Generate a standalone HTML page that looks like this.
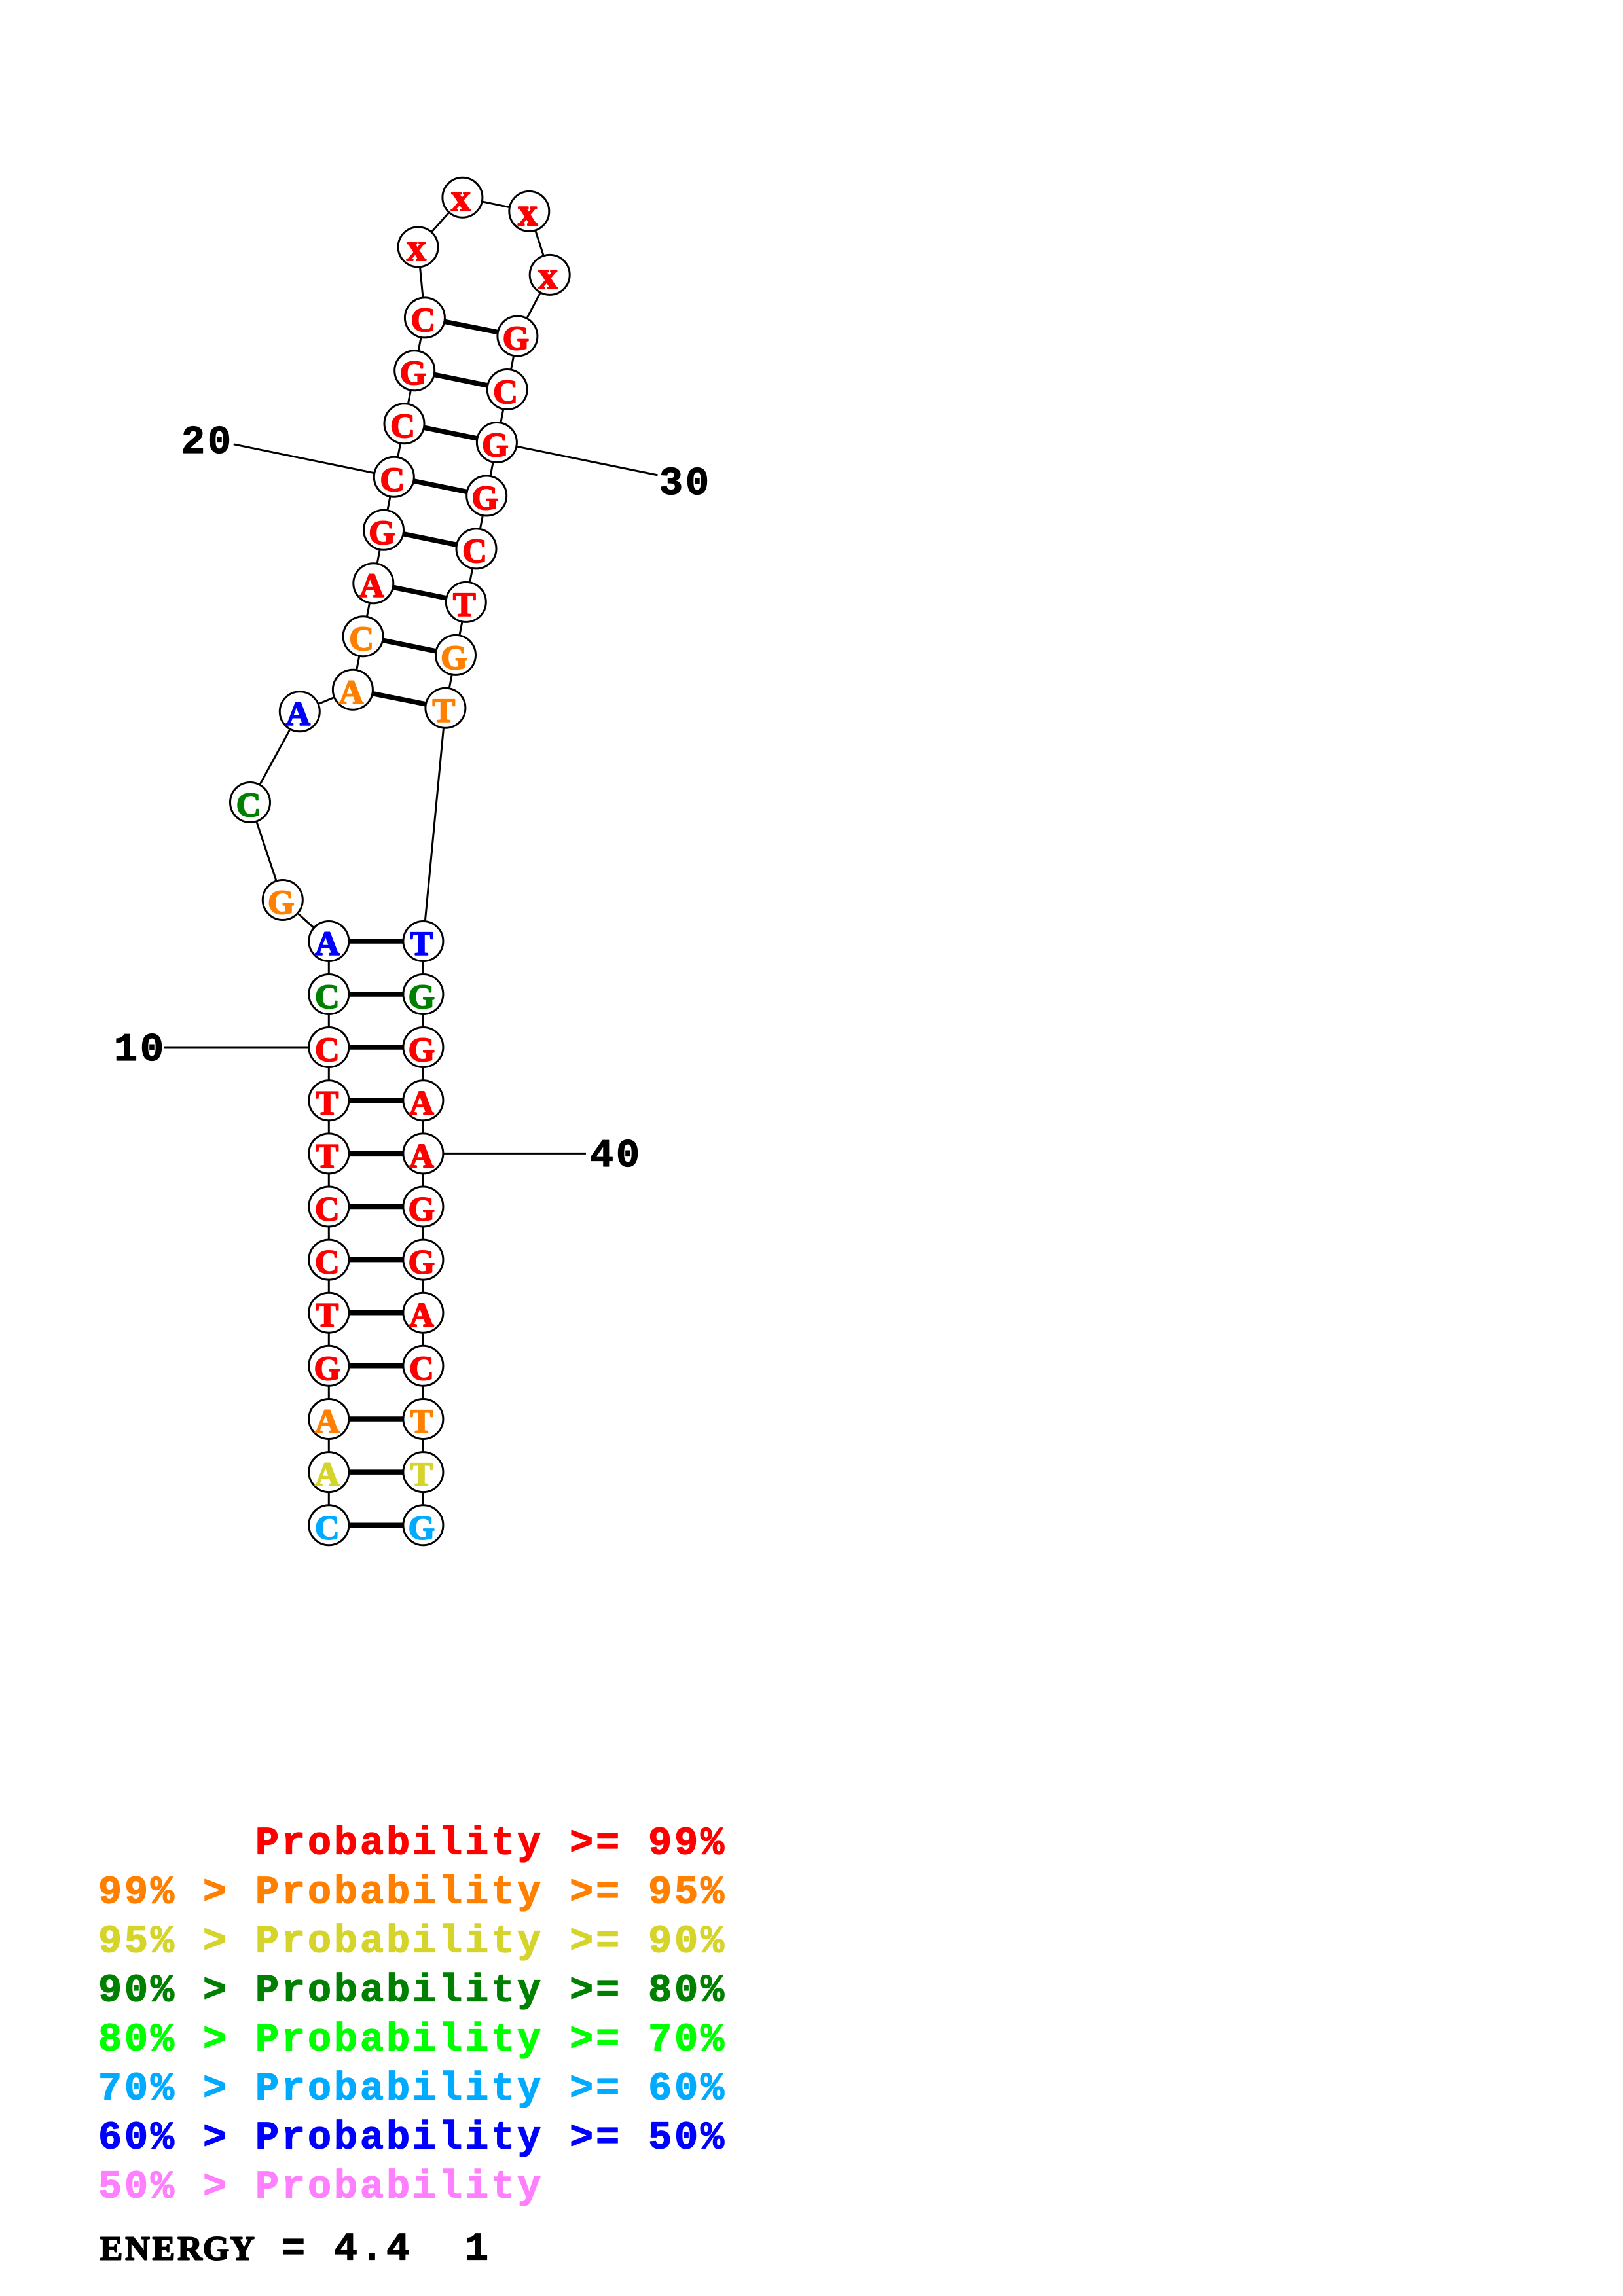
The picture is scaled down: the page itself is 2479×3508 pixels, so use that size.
<!DOCTYPE html>
<html><head><meta charset="utf-8"><style>
html,body{margin:0;padding:0;background:#fff}
svg{display:block}
.b{stroke:#000;stroke-width:3;fill:none}
.p{stroke:#000;stroke-width:7.5;fill:none}
circle{fill:#fff;stroke:#000;stroke-width:3}
.n text{font:bold 52px "Liberation Serif",serif;text-anchor:middle;stroke-width:2px;stroke-linejoin:round}
.n text.x{font-size:60px}
.m text{font:bold 60px "Liberation Mono",monospace;letter-spacing:4px;white-space:pre;stroke-width:1.3px;stroke-linejoin:round}
.m text.s{font:bold 52px "Liberation Serif",serif;letter-spacing:0;text-anchor:middle;stroke-width:2px}
</style></head><body>
<svg width="2479" height="3508" viewBox="0 0 2479 3508" xmlns="http://www.w3.org/2000/svg">
<polyline class="b" points="502.3,2330.3 502.3,1438 431.8,1375 382,1226 457.8,1087.3 538.9,1053.7 554.6,972.2 570.3,891.2 586,809.7 601.8,728.8 617.5,647.2 633.2,566.3 648.9,485.4 638.6,377.4 706.4,301.7 808.3,322.9 839.7,419.9 790.4,513.5 774.7,595 758.9,676 743.2,757.5 727.5,838.4 711.8,919.9 696,1000.9 680.4,1081.8 646.4,1438 646.4,2330.3"/>
<line class="b" x1="356.8" y1="678.8" x2="601.8" y2="728.8"/>
<line class="b" x1="758.9" y1="676" x2="1004.5" y2="725.9"/>
<line class="b" x1="251" y1="1600" x2="502.3" y2="1600"/>
<line class="b" x1="646.4" y1="1762.4" x2="895" y2="1762.4"/>
<g class="p">
<line x1="648.9" y1="485.4" x2="790.4" y2="513.5"/>
<line x1="633.2" y1="566.3" x2="774.7" y2="595"/>
<line x1="617.5" y1="647.2" x2="758.9" y2="676"/>
<line x1="601.8" y1="728.8" x2="743.2" y2="757.5"/>
<line x1="586" y1="809.7" x2="727.5" y2="838.4"/>
<line x1="570.3" y1="891.2" x2="711.8" y2="919.9"/>
<line x1="554.6" y1="972.2" x2="696" y2="1000.9"/>
<line x1="538.9" y1="1053.7" x2="680.4" y2="1081.8"/>
<line x1="502.3" y1="1438" x2="646.4" y2="1438"/>
<line x1="502.3" y1="1519" x2="646.4" y2="1519"/>
<line x1="502.3" y1="1600" x2="646.4" y2="1600"/>
<line x1="502.3" y1="1681.3" x2="646.4" y2="1681.3"/>
<line x1="502.3" y1="1762.4" x2="646.4" y2="1762.4"/>
<line x1="502.3" y1="1843.5" x2="646.4" y2="1843.5"/>
<line x1="502.3" y1="1924.6" x2="646.4" y2="1924.6"/>
<line x1="502.3" y1="2005.7" x2="646.4" y2="2005.7"/>
<line x1="502.3" y1="2086.8" x2="646.4" y2="2086.8"/>
<line x1="502.3" y1="2168" x2="646.4" y2="2168"/>
<line x1="502.3" y1="2249.1" x2="646.4" y2="2249.1"/>
<line x1="502.3" y1="2330.3" x2="646.4" y2="2330.3"/>
</g>
<g>
<circle cx="638.6" cy="377.4" r="30.5"/><circle cx="706.4" cy="301.7" r="30.5"/><circle cx="808.3" cy="322.9" r="30.5"/><circle cx="839.7" cy="419.9" r="30.5"/>
<circle cx="648.9" cy="485.4" r="30.5"/><circle cx="790.4" cy="513.5" r="30.5"/>
<circle cx="633.2" cy="566.3" r="30.5"/><circle cx="774.7" cy="595" r="30.5"/>
<circle cx="617.5" cy="647.2" r="30.5"/><circle cx="758.9" cy="676" r="30.5"/>
<circle cx="601.8" cy="728.8" r="30.5"/><circle cx="743.2" cy="757.5" r="30.5"/>
<circle cx="586" cy="809.7" r="30.5"/><circle cx="727.5" cy="838.4" r="30.5"/>
<circle cx="570.3" cy="891.2" r="30.5"/><circle cx="711.8" cy="919.9" r="30.5"/>
<circle cx="554.6" cy="972.2" r="30.5"/><circle cx="696" cy="1000.9" r="30.5"/>
<circle cx="538.9" cy="1053.7" r="30.5"/><circle cx="680.4" cy="1081.8" r="30.5"/>
<circle cx="457.8" cy="1087.3" r="30.5"/><circle cx="382" cy="1226" r="30.5"/><circle cx="431.8" cy="1375" r="30.5"/>
<circle cx="502.3" cy="1438" r="30.5"/><circle cx="646.4" cy="1438" r="30.5"/>
<circle cx="502.3" cy="1519" r="30.5"/><circle cx="646.4" cy="1519" r="30.5"/>
<circle cx="502.3" cy="1600" r="30.5"/><circle cx="646.4" cy="1600" r="30.5"/>
<circle cx="502.3" cy="1681.3" r="30.5"/><circle cx="646.4" cy="1681.3" r="30.5"/>
<circle cx="502.3" cy="1762.4" r="30.5"/><circle cx="646.4" cy="1762.4" r="30.5"/>
<circle cx="502.3" cy="1843.5" r="30.5"/><circle cx="646.4" cy="1843.5" r="30.5"/>
<circle cx="502.3" cy="1924.6" r="30.5"/><circle cx="646.4" cy="1924.6" r="30.5"/>
<circle cx="502.3" cy="2005.7" r="30.5"/><circle cx="646.4" cy="2005.7" r="30.5"/>
<circle cx="502.3" cy="2086.8" r="30.5"/><circle cx="646.4" cy="2086.8" r="30.5"/>
<circle cx="502.3" cy="2168" r="30.5"/><circle cx="646.4" cy="2168" r="30.5"/>
<circle cx="502.3" cy="2249.1" r="30.5"/><circle cx="646.4" cy="2249.1" r="30.5"/>
<circle cx="502.3" cy="2330.3" r="30.5"/><circle cx="646.4" cy="2330.3" r="30.5"/>
</g>
<g class="n">
<g fill="#ff0000" stroke="#ff0000">
<text class="x" x="636" y="398">x</text><text class="x" x="704" y="322">x</text><text class="x" x="806" y="344">x</text><text class="x" x="837" y="441">x</text>
<text x="646.4" y="506">C</text><text x="788" y="534">G</text>
<text x="631" y="587">G</text><text x="772" y="616">C</text>
<text x="615" y="668">C</text><text x="756.4" y="697">G</text>
<text x="599.3" y="750">C</text><text x="740.7" y="778">G</text>
<text x="583.5" y="831">G</text><text x="725" y="859">C</text>
<text x="567.8" y="912">A</text><text x="709.3" y="941">T</text>
<text x="499.8" y="1621">C</text><text x="643.9" y="1621">G</text>
<text x="499.8" y="1702.3">T</text><text x="643.9" y="1702.3">A</text>
<text x="499.8" y="1783.4">T</text><text x="643.9" y="1783.4">A</text>
<text x="499.8" y="1864.5">C</text><text x="643.9" y="1864.5">G</text>
<text x="499.8" y="1945.6">C</text><text x="643.9" y="1945.6">G</text>
<text x="499.8" y="2026.7">T</text><text x="643.9" y="2026.7">A</text>
<text x="499.8" y="2107.8">G</text><text x="643.9" y="2107.8">C</text>
</g>
<g fill="#ff8000" stroke="#ff8000">
<text x="552.1" y="993">C</text><text x="693.5" y="1022">G</text>
<text x="536.4" y="1075">A</text><text x="677.9" y="1103">T</text>
<text x="429.3" y="1396">G</text>
<text x="499.8" y="2189">A</text><text x="643.9" y="2189">T</text>
</g>
<g fill="#d4d42a" stroke="#d4d42a"><text x="499.8" y="2270.1">A</text><text x="643.9" y="2270.1">T</text></g>
<g fill="#008000" stroke="#008000"><text x="379.5" y="1247">C</text><text x="499.8" y="1540">C</text><text x="643.9" y="1540">G</text></g>
<g fill="#00aaff" stroke="#00aaff"><text x="499.8" y="2351.3">C</text><text x="643.9" y="2351.3">G</text></g>
<g fill="#0000ff" stroke="#0000ff"><text x="455.3" y="1108">A</text><text x="499.8" y="1459">A</text><text x="643.9" y="1459">T</text></g>
</g>
<g class="m">
<text x="277" y="692" stroke="#000">20</text>
<text x="1007" y="755" stroke="#000">30</text>
<text x="174" y="1620" stroke="#000">10</text>
<text x="901" y="1782" stroke="#000">40</text>
<text x="150" y="2832.5" fill="#ff0000" stroke="#ff0000">      Probability &gt;= 99%</text>
<text x="150" y="2907.5" fill="#ff8000" stroke="#ff8000">99% &gt; Probability &gt;= 95%</text>
<text x="150" y="2982.5" fill="#d4d42a" stroke="#d4d42a">95% &gt; Probability &gt;= 90%</text>
<text x="150" y="3057.5" fill="#008000" stroke="#008000">90% &gt; Probability &gt;= 80%</text>
<text x="150" y="3132.5" fill="#00ff00" stroke="#00ff00">80% &gt; Probability &gt;= 70%</text>
<text x="150" y="3207.5" fill="#00aaff" stroke="#00aaff">70% &gt; Probability &gt;= 60%</text>
<text x="150" y="3282.5" fill="#0000ff" stroke="#0000ff">60% &gt; Probability &gt;= 50%</text>
<text x="150" y="3357.5" fill="#ff80ff" stroke="#ff80ff">50% &gt; Probability</text>
<text class="s" x="170 210 250 290 330 370" y="3452.7" fill="#000" stroke="#000">ENERGY</text>
<text x="430" y="3452.7" fill="#000" stroke="#000">= 4.4  1</text>
</g>
</svg>
</body></html>
